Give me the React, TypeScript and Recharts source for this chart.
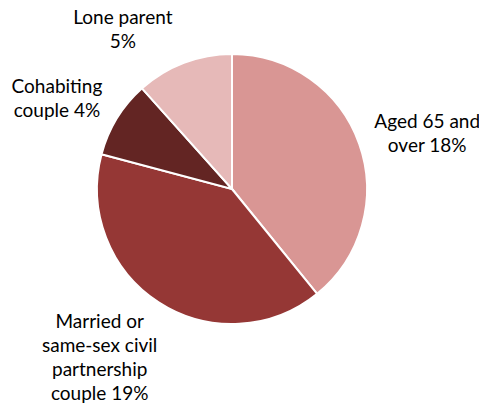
import React from 'react';
import { PieChart, Pie, Cell } from 'recharts';

const categories = ['Aged 65 and over', 'Married or same-sex civil partnership couple', 'Cohabiting couple', 'Lone parent'];
const values = [18.2, 18.6, 4.3, 5.4];
const labelLines = [
  ['Aged 65 and', 'over 18%'],
  ['Married or', 'same-sex civil', 'partnership', 'couple 19%'],
  ['Cohabiting', 'couple 4%'],
  ['Lone parent', '5%'],
];
const colors = ['#D99694', '#953735', '#632523', '#E6B9B8'];
const labelOffsets = [
  [68, -4],
  [-59, 61.5],
  [-60, -13.6],
  [-61, -27],
];

const data = categories.map((name, i) => ({ name, value: values[i] }));

const RAD = Math.PI / 180;
const LINE_H = 24;

const renderLabel = (props: any) => {
  const { cx, cy, midAngle, outerRadius, index } = props;
  const px = cx + outerRadius * Math.cos(-midAngle * RAD);
  const py = cy + outerRadius * Math.sin(-midAngle * RAD);
  const [dx, dy] = labelOffsets[index];
  const lines = labelLines[index];
  const x = px + dx;
  const firstBaseline = py + dy - ((lines.length - 1) * LINE_H) / 2;
  return (
    <text
      key={`lbl-${index}`}
      x={x}
      y={firstBaseline}
      textAnchor="middle"
      fill="#000"
      fontSize={19}
      fontFamily="Lato, 'Open Sans', sans-serif"
    >
      {lines.map((l, i) => (
        <tspan key={i} x={x} y={firstBaseline + i * LINE_H}>
          {l}
        </tspan>
      ))}
    </text>
  );
};

export default function App() {
  return (
    <div style={{ position: 'absolute', left: 0, top: 0, width: 479, height: 410, background: '#fff' }}>
      <PieChart width={479} height={410} margin={{ top: 0, right: 0, bottom: 0, left: 0 }}>
        <Pie
          data={data}
          dataKey="value"
          nameKey="name"
          cx={232}
          cy={189}
          outerRadius={135}
          startAngle={90}
          endAngle={-270}
          stroke="#fff"
          strokeWidth={2}
          label={renderLabel}
          labelLine={false}
          isAnimationActive={false}
        >
          {data.map((d, i) => (
            <Cell key={d.name} fill={colors[i]} />
          ))}
        </Pie>
      </PieChart>
    </div>
  );
}
